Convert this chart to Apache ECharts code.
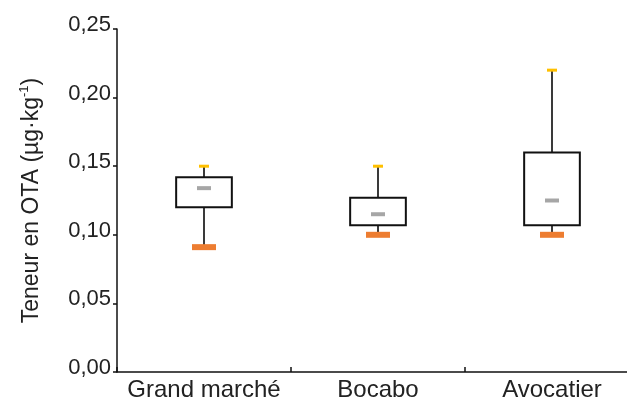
<!DOCTYPE html>
<html>
<head>
<meta charset="utf-8">
<script src="https://cdn.jsdelivr.net/npm/echarts@6/dist/echarts.min.js"></script>
<style>html,body{margin:0;padding:0;background:#fff}#c{width:627px;height:399px}</style>
</head>
<body>
<div id="c"></div>
<script>
// Data
const categories = ['Grand marché', 'Bocabo', 'Avocatier'];
const minValues    = [0.091, 0.100, 0.100];   // orange marks
const q1Values     = [0.120, 0.107, 0.107];   // box bottom
const medianValues = [0.134, 0.115, 0.125];   // grey marks
const q3Values     = [0.142, 0.127, 0.160];   // box top
const maxValues    = [0.150, 0.150, 0.220];   // yellow marks
const yTicks = [0, 0.05, 0.10, 0.15, 0.20, 0.25];

const FONT = '"Liberation Sans", Arial, Helvetica, sans-serif';
const chart = echarts.init(document.getElementById('c'), null, {renderer: 'canvas'});

const data = categories.map((c, i) => [i, minValues[i], q1Values[i], medianValues[i], q3Values[i], maxValues[i]]);

function renderItem(params, api) {
  const idx = api.value(0);
  const pMin = api.coord([idx, api.value(1)]);
  const pQ1 = api.coord([idx, api.value(2)]);
  const pMed = api.coord([idx, api.value(3)]);
  const pQ3 = api.coord([idx, api.value(4)]);
  const pMax = api.coord([idx, api.value(5)]);
  const band = api.size([1, 0])[0];
  const bw = band * 0.32;
  const x = pQ1[0];
  return {
    type: 'group',
    children: [
      {type: 'line', shape: {x1: x, y1: pMax[1], x2: x, y2: pQ3[1]}, style: {stroke: '#3a3a3a', lineWidth: 2}},
      {type: 'line', shape: {x1: x, y1: pQ1[1], x2: x, y2: pMin[1]}, style: {stroke: '#3a3a3a', lineWidth: 2}},
      {type: 'rect', shape: {x: x - bw / 2, y: pQ3[1], width: bw, height: pQ1[1] - pQ3[1]}, style: {fill: '#fff', stroke: '#111', lineWidth: 2}},
      {type: 'rect', shape: {x: x - 7, y: pMed[1] - 2, width: 14, height: 4}, style: {fill: '#a6a6a6'}},
      {type: 'rect', shape: {x: x - 5, y: pMax[1] - 1.5, width: 10, height: 3}, style: {fill: '#ffc000'}},
      {type: 'rect', shape: {x: x - 12, y: pMin[1] - 3, width: 24, height: 6}, style: {fill: '#ed7d31'}}
    ]
  };
}

chart.setOption({
  animation: false,
  backgroundColor: '#fff',
  grid: {left: 117, top: 29, width: 522, bottom: 27, containLabel: false, outerBoundsMode: 'none'},
  xAxis: {
    type: 'category',
    data: categories,
    boundaryGap: true,
    axisLine: {lineStyle: {color: '#111', width: 1.5}},
    axisTick: {show: true, inside: true, length: 5, lineStyle: {color: '#111', width: 1.5}},
    axisLabel: {color: '#222', fontFamily: FONT, fontSize: 24, margin: 6, interval: 0, hideOverlap: false},
    splitLine: {show: false}
  },
  yAxis: {
    type: 'value',
    min: yTicks[0],
    max: yTicks[yTicks.length - 1],
    interval: 0.05,
    name: 'Teneur en OTA (µg·kg{sup|-1})',
    nameLocation: 'middle',
    nameGap: 72,
    nameRotate: 90,
    nameTextStyle: {
      color: '#222', fontFamily: FONT, fontSize: 23,
      rich: {sup: {fontSize: 13, fontFamily: FONT, color: '#222', padding: [0, 0, 14, 0]}}
    },
    axisLine: {show: true, lineStyle: {color: '#111', width: 1.5}},
    axisTick: {show: true, inside: false, length: 4, lineStyle: {color: '#111', width: 1.5}},
    axisLabel: {
      color: '#222', fontFamily: FONT, fontSize: 22, margin: 6,
      verticalAlign: 'bottom', lineHeight: 8,
      formatter: v => v.toFixed(2).replace('.', ',')
    },
    splitLine: {show: false}
  },
  series: [{
    type: 'custom',
    renderItem: renderItem,
    encode: {x: 0, y: [1, 2, 3, 4, 5]},
    data: data
  }]
});
</script>
</body>
</html>
